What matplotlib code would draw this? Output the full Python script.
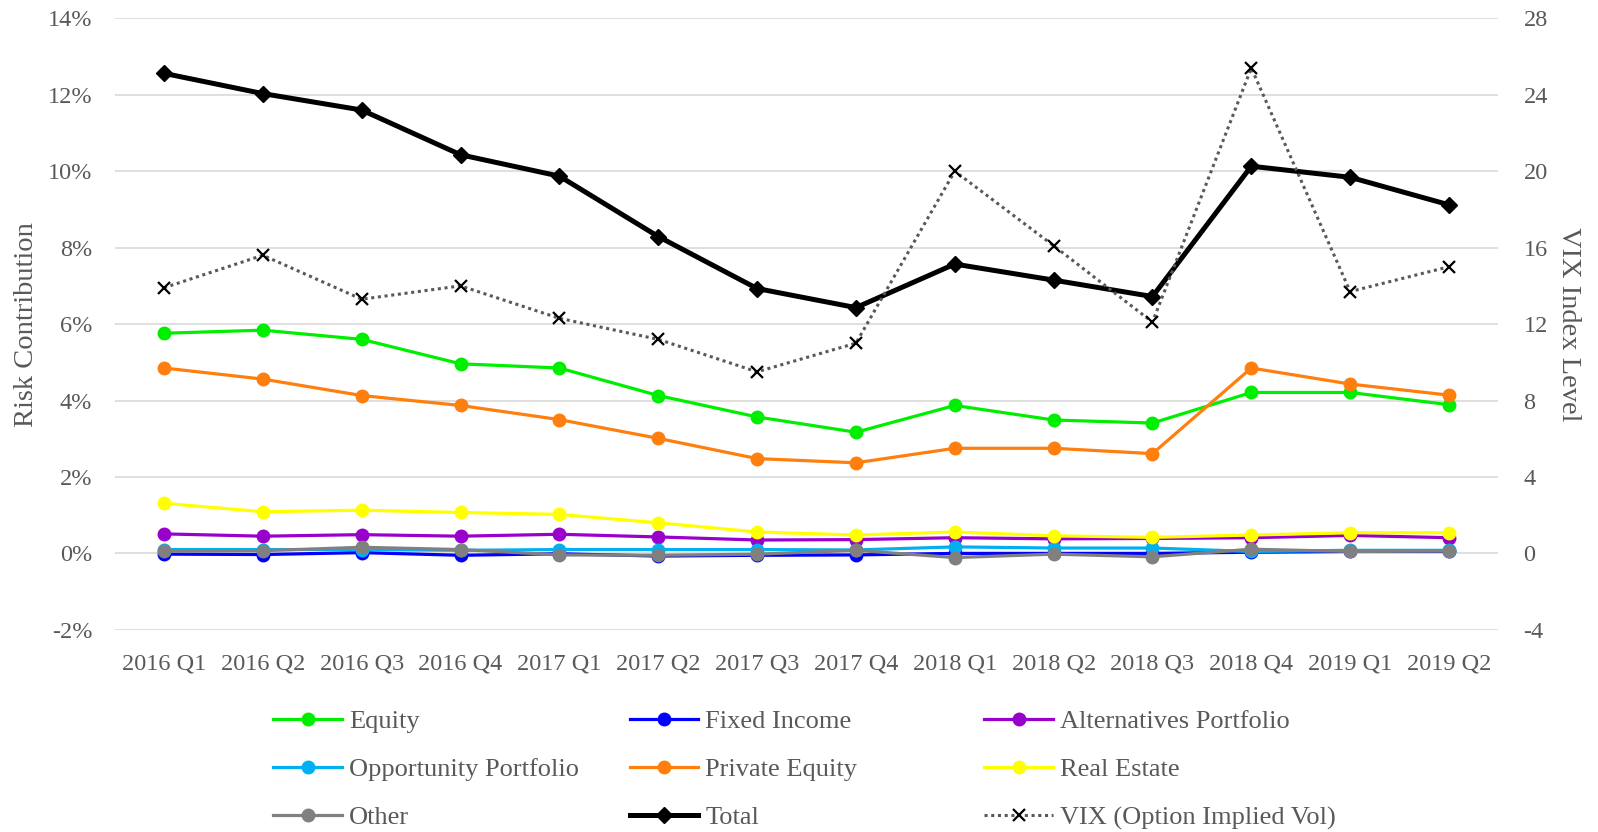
import numpy as np
import matplotlib.pyplot as plt
from matplotlib.ticker import FuncFormatter

plt.rcParams['font.family'] = ['Liberation Serif', 'DejaVu Serif']
plt.rcParams['axes.unicode_minus'] = False

quarters = ["2016 Q1", "2016 Q2", "2016 Q3", "2016 Q4", "2017 Q1", "2017 Q2", "2017 Q3",
            "2017 Q4", "2018 Q1", "2018 Q2", "2018 Q3", "2018 Q4", "2019 Q1", "2019 Q2"]

# risk contribution, percent
equity = [5.76, 5.84, 5.60, 4.96, 4.85, 4.13, 3.57, 3.17, 3.87, 3.49, 3.41, 4.21, 4.21, 3.89]
fixed_income = [-0.02, -0.03, 0.02, -0.05, -0.01, -0.07, -0.05, -0.04, 0.00, 0.00, 0.00, 0.03, 0.05, 0.05]
alternatives = [0.51, 0.45, 0.49, 0.45, 0.50, 0.43, 0.35, 0.36, 0.41, 0.38, 0.39, 0.41, 0.47, 0.41]
opportunity = [0.10, 0.10, 0.10, 0.08, 0.10, 0.10, 0.10, 0.09, 0.17, 0.14, 0.14, 0.05, 0.08, 0.08]
private_equity = [4.85, 4.56, 4.13, 3.87, 3.50, 3.01, 2.48, 2.37, 2.75, 2.75, 2.61, 4.85, 4.43, 4.14]
real_estate = [1.31, 1.09, 1.13, 1.07, 1.02, 0.80, 0.56, 0.48, 0.56, 0.46, 0.42, 0.48, 0.54, 0.54]
other = [0.06, 0.07, 0.16, 0.10, -0.04, -0.05, -0.02, 0.08, -0.11, -0.02, -0.09, 0.11, 0.05, 0.06]
total = [12.56, 12.03, 11.60, 10.43, 9.87, 8.29, 6.93, 6.43, 7.57, 7.15, 6.72, 10.13, 9.84, 9.12]
# right axis
vix = [13.9, 15.6, 13.3, 14.0, 12.3, 11.2, 9.5, 11.0, 20.0, 16.1, 12.1, 25.4, 13.7, 15.0]

txt = "#595959"
x = np.arange(len(quarters))

fig = plt.figure(figsize=(15.98, 8.32), dpi=100)
ax = fig.add_axes([0.0717, 0.243, 0.866, 0.735])
ax2 = ax.twinx()

series = [
    ("Equity", equity, "#00EE00"),
    ("Fixed Income", fixed_income, "#0000FF"),
    ("Alternatives Portfolio", alternatives, "#9900CC"),
    ("Opportunity Portfolio", opportunity, "#00B0F0"),
    ("Private Equity", private_equity, "#FF7F0E"),
    ("Real Estate", real_estate, "#FFFF00"),
    ("Other", other, "#808080"),
]
handles = {}
for name, vals, col in series:
    h, = ax.plot(x, vals, color=col, lw=2.3, marker="o", ms=9, label=name)
    handles[name] = h
h, = ax.plot(x, total, color="black", lw=3.6, marker="D", ms=8, label="Total")
handles["Total"] = h
h, = ax2.plot(x, vix, color="#595959", lw=2.2, ls=(0, (1, 1.2)), marker="x", ms=9,
              mew=1.6, mec="black", label="VIX (Option Implied Vol)")
handles["VIX (Option Implied Vol)"] = h

ax.set_xlim(-0.5, len(quarters) - 0.5)
ax.set_ylim(-2, 14)
ax.set_yticks(np.arange(-2, 15, 2))
ax.yaxis.set_major_formatter(FuncFormatter(lambda v, p: "{:.0f}%".format(v)))
ax2.set_ylim(-4, 28)
ax2.set_yticks(np.arange(-4, 29, 4))
ax.set_xticks(x)
ax.set_xticklabels(quarters)
ax.grid(axis="y", color="#D9D9D9", lw=1.2)
ax.set_axisbelow(True)
for a in (ax, ax2):
    for s in a.spines.values():
        s.set_visible(False)
    a.tick_params(length=0, labelsize=17.5, labelcolor=txt)
ax.tick_params(axis="y", pad=16)
ax.tick_params(axis="x", pad=17)
ax2.tick_params(axis="y", pad=18)
ax.set_ylabel("Risk Contribution", fontsize=20.5, color=txt, labelpad=6)
ax2.set_ylabel("VIX Index Level", fontsize=20.5, color=txt, rotation=270, labelpad=24)

cols = [["Equity", "Opportunity Portfolio", "Other"],
        ["Fixed Income", "Private Equity", "Total"],
        ["Alternatives Portfolio", "Real Estate", "VIX (Option Implied Vol)"]]
xs = [0.171, 0.394, 0.616]
for cx, names in zip(xs, cols):
    leg = fig.legend([handles[n] for n in names], names, loc="upper left",
                     bbox_to_anchor=(cx, 0.147), frameon=False, fontsize=19,
                     handlelength=2.6, handletextpad=0.27, labelspacing=0.93,
                     borderpad=0, borderaxespad=0)
    for t in leg.get_texts():
        t.set_color(txt)

fig.savefig("out.png", dpi=100)
